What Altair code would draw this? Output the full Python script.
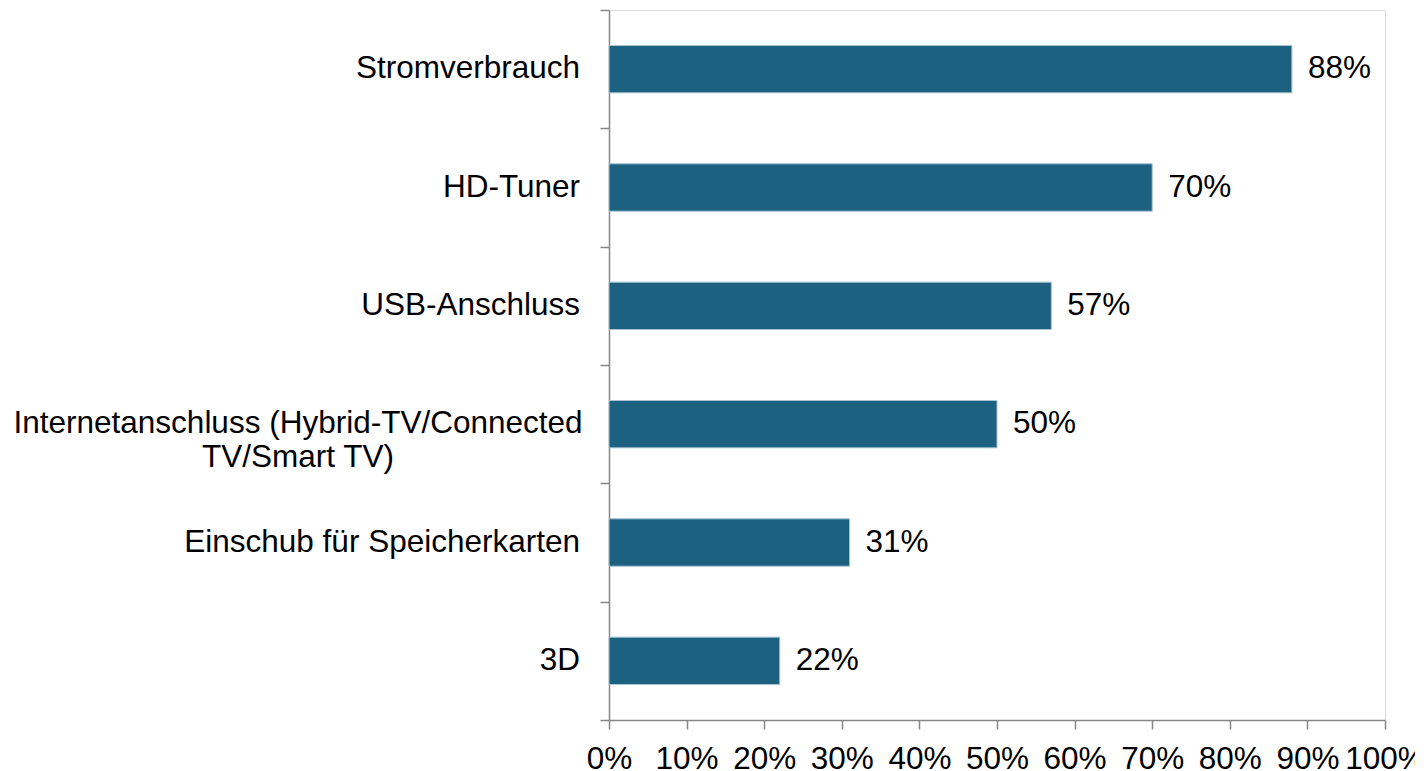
import altair as alt
import pandas as pd

categories = ["Stromverbrauch", "HD-Tuner", "USB-Anschluss",
              "Internetanschluss (Hybrid-TV/Connected|TV/Smart TV)",
              "Einschub für Speicherkarten", "3D"]
values = [0.88, 0.70, 0.57, 0.50, 0.31, 0.22]
wrapped = [False, False, False, True, False, False]
x_ticks = [0, 0.1, 0.2, 0.3, 0.4, 0.5, 0.6, 0.7, 0.8, 0.9, 1.0]

df = pd.DataFrame({"cat": categories, "value": values, "wrapped": wrapped})

FONT = "Liberation Sans"
FS = 31.5
AXIS_COLOR = "#878787"
BAR_COLOR = "#1C6280"

y_enc = alt.Y("cat:N", sort=categories,
              scale=alt.Scale(paddingInner=0, paddingOuter=0),
              axis=alt.Axis(labels=False, title=None, tickBand="extent", grid=False,
                            domainColor=AXIS_COLOR, tickColor=AXIS_COLOR,
                            tickSize=9, domainWidth=1.5, tickWidth=1.5))
x_enc = alt.X("value:Q", scale=alt.Scale(domain=[0, 1], nice=False),
              axis=alt.Axis(values=x_ticks, format=".0%", title=None, grid=False,
                            domainColor=AXIS_COLOR, tickColor=AXIS_COLOR,
                            tickSize=9, domainWidth=1.5, tickWidth=1.5,
                            labelFont=FONT, labelFontSize=FS, labelColor="#000000",
                            labelPadding=14, labelFlush=False))
y_plain = alt.Y("cat:N", sort=categories)

base = alt.Chart(df)

bars = base.mark_bar(height={"band": 0.4}, color=BAR_COLOR,
                     stroke="#a8c2cf", strokeWidth=1).encode(x=x_enc, y=y_enc)

values_text = base.mark_text(align="left", baseline="middle", dx=16,
                             font=FONT, fontSize=FS, color="#000000").encode(
    x="value:Q", y=y_plain,
    text=alt.Text("value:Q", format=".0%"))

cat_text = base.transform_filter("!datum.wrapped").mark_text(
    align="right", baseline="middle", font=FONT, fontSize=FS, color="#000000").encode(
    x=alt.value(-29), y=y_plain, text="cat:N")

wrap_text = base.transform_filter("datum.wrapped").mark_text(
    align="center", baseline="middle", font=FONT, fontSize=FS, color="#000000",
    lineBreak="|", lineHeight=34).encode(
    x=alt.value(-311), y=y_plain, text="cat:N")

chart = alt.layer(bars, values_text, cat_text, wrap_text).properties(
    width=776, height=710,
    autosize=alt.AutoSizeParams(type="none"),
    padding={"left": 601, "top": 2, "right": 30, "bottom": 50},
).configure_view(stroke="transparent", strokeOpacity=0).configure_axis(grid=False).configure(background="white")

chart.save("out.html", embed_options={"renderer": "svg", "actions": False})
